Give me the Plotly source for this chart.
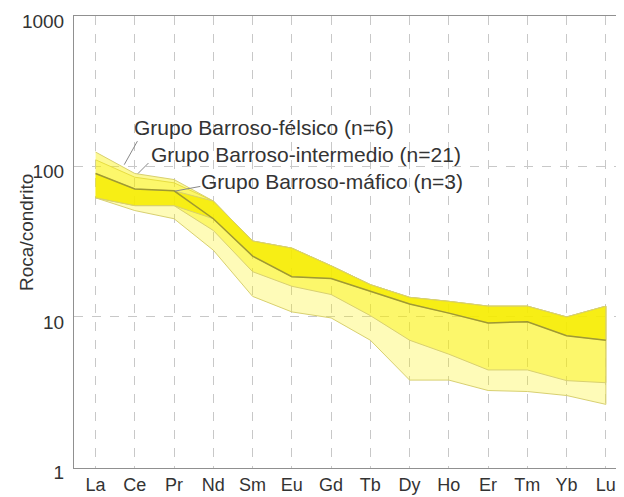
import plotly.graph_objects as go

# Elementos de tierras raras (eje X)
elementos = ['La', 'Ce', 'Pr', 'Nd', 'Sm', 'Eu', 'Gd', 'Tb', 'Dy', 'Ho', 'Er', 'Tm', 'Yb', 'Lu']

# Envolventes normalizadas a condrito
felsico_sup = [125, 90, 82, 59, 32, 28.7, 21.9, 16.4, 13.5, 12.7, 11.8, 11.8, 10.0, 11.8]
felsico_inf = [62, 55, 55, 37.6, 20, 16, 14.1, 10.2, 7.0, 5.65, 4.44, 4.44, 3.77, 3.65]

intermedio_sup = [111, 85, 78, 59, 32, 28.7, 21.9, 16.4, 13.5, 12.7, 11.8, 11.8, 10.0, 11.8]
intermedio_inf = [62, 51, 45, 27.8, 13.7, 10.8, 9.85, 7.0, 3.8, 3.8, 3.24, 3.19, 3.0, 2.62]

mafico_sup = [90, 71, 69, 59, 32, 28.7, 21.9, 16.4, 13.5, 12.7, 11.8, 11.8, 10.0, 11.8]
mafico_inf = [62, 55, 55, 45, 25.4, 18.5, 18, 14.8, 12.2, 10.6, 9.1, 9.3, 7.5, 7.0]

# linea oscura visible (borde del grupo mafico)
linea_mafico = [90, 71, 69, 45, 25.4, 18.5, 18, 14.8, 12.2, 10.6, 9.1, 9.3, 7.5, 7.0]

y_ticks = [1, 10, 100, 1000]

fig = go.Figure()


def banda(sup, inf, color, nombre):
    return go.Scatter(
        x=elementos + elementos[::-1],
        y=sup + inf[::-1],
        fill='toself',
        fillcolor=color,
        mode='lines',
        line=dict(color='#d8d070', width=1),
        name=nombre,
        hoverinfo='skip',
        showlegend=False,
    )


fig.add_trace(banda(intermedio_sup, intermedio_inf, 'rgba(250,240,0,0.28)', 'intermedio'))
fig.add_trace(banda(felsico_sup, felsico_inf, 'rgba(250,240,0,0.42)', 'felsico'))
fig.add_trace(banda(mafico_sup, mafico_inf, 'rgba(245,235,0,0.80)', 'mafico'))
fig.add_trace(go.Scatter(x=elementos, y=linea_mafico, mode='lines',
                         line=dict(color='#a09a30', width=1.5),
                         hoverinfo='skip', showlegend=False))

fuente = 'Liberation Sans, Arial, sans-serif'
gris = '#333333'

# etiquetas de los grupos con sus lineas guia
textos = [
    ('Grupo Barroso-félsico (n=6)', 1.00, 2.261),
    ('Grupo Barroso-intermedio (n=21)', 1.44, 2.078),
    ('Grupo Barroso-máfico (n=3)', 2.71, 1.902),
]
for t, xx, yy in textos:
    fig.add_annotation(x=xx, y=yy, xref='x', yref='y', text=t, showarrow=False,
                       xanchor='left', yanchor='middle', xshift=-3,
                       font=dict(family=fuente, size=21, color=gris))

guias = [(0.73, 2.013, 14, -25), (1.08, 1.954, 12, -12), (2.02, 1.837, 27, -5)]
for xx, yy, ax, ay in guias:
    fig.add_annotation(x=xx, y=yy, xref='x', yref='y', text='', showarrow=True,
                       arrowhead=0, arrowwidth=1, arrowcolor='#888888',
                       ax=ax, ay=ay)

# titulo del eje Y
fig.add_annotation(x=0, y=0.52, xref='paper', yref='paper', text='Roca/condrito',
                   textangle=-90, showarrow=False, xanchor='center', yanchor='middle',
                   xshift=-47, font=dict(family=fuente, size=19, color=gris))

# la pagina deja 8px de margen, por eso el lienzo es algo menor
fig.update_layout(
    width=616, height=489,
    margin=dict(l=66, r=4, t=8, b=29),
    plot_bgcolor='white', paper_bgcolor='white',
    font=dict(family=fuente, size=18, color=gris),
)
fig.update_xaxes(
    type='category', range=[-0.55, 13.36], automargin=False,
    showgrid=True, gridcolor='#c8c8c8', griddash='dash', gridwidth=1,
    showline=True, linecolor='#909090', linewidth=1, mirror=True,
    ticks='', ticklabelstandoff=0, tickfont=dict(size=18),
)
fig.update_yaxes(
    type='log', range=[-0.005, 3.002], automargin=False,
    tickvals=y_ticks, ticktext=[str(v) for v in y_ticks],
    showgrid=True, gridcolor='#c8c8c8', griddash='dash', gridwidth=1,
    showline=True, linecolor='#909090', linewidth=1, mirror=True,
    ticks='', ticklabelstandoff=5, ticklabelshift=5, ticklabeloverflow='allow',
    tickfont=dict(size=19),
)

fig.write_html("out.html")
